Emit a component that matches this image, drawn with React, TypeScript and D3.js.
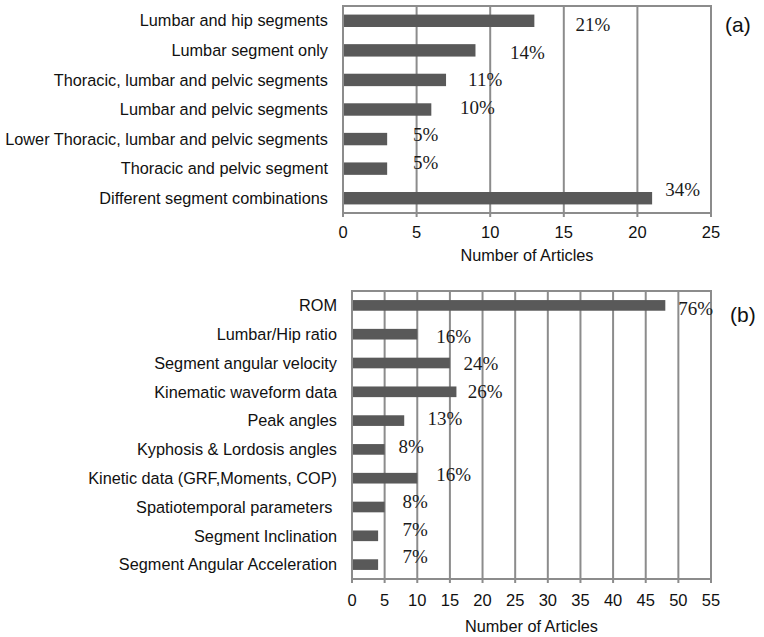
import { useEffect, useRef } from "react";
import * as d3 from "d3";

// panel (a): segment combinations
const segmentCategories = [
  "Lumbar and hip segments",
  "Lumbar segment only",
  "Thoracic, lumbar and pelvic segments",
  "Lumbar and pelvic segments",
  "Lower Thoracic, lumbar and pelvic segments",
  "Thoracic and pelvic segment",
  "Different segment combinations",
];
const segmentCounts = [13, 9, 7, 6, 3, 3, 21];
const segmentShares = ["21%", "14%", "11%", "10%", "5%", "5%", "34%"];
// where each percentage label starts, in article units
const segmentShareAt = [15.8, 11.35, 8.5, 7.95, 4.75, 4.75, 21.9];
const segmentTicks = [0, 5, 10, 15, 20, 25];

// panel (b): measured outcomes
const measureCategories = [
  "ROM",
  "Lumbar/Hip ratio",
  "Segment angular velocity",
  "Kinematic waveform data",
  "Peak angles",
  "Kyphosis & Lordosis angles",
  "Kinetic data (GRF,Moments, COP)",
  "Spatiotemporal parameters ",
  "Segment Inclination",
  "Segment Angular Acceleration",
];
const measureCounts = [48, 10, 15, 16, 8, 5, 10, 5, 4, 4];
const measureShares = ["76%", "16%", "24%", "26%", "13%", "8%", "16%", "8%", "7%", "7%"];
const measureShareAt = [50.0, 12.9, 17.1, 17.75, 11.57, 7.13, 12.9, 7.75, 7.75, 7.75];
const measureTicks = [0, 5, 10, 15, 20, 25, 30, 35, 40, 45, 50, 55];

const W = 764;
const H = 637;
const SANS = "'Liberation Sans', Arial, sans-serif";
const SERIF = "'Liberation Serif', 'Times New Roman', serif";
const BAR = "#595959";
const GRID = "#8c8c8c";

interface Panel {
  categories: string[];
  counts: number[];
  shares: string[];
  shareAt: number[];
  ticks: number[];
  tag: string;
  left: number;
  right: number;
  top: number;
  bottom: number;
  padding: number;
  labelTop: number;
  labelBottom: number;
  tickBaseline: number;
  titleBaseline: number;
  tagX: number;
  tagY: number;
}

function drawPanel(root: d3.Selection<SVGSVGElement, unknown, null, undefined>, p: Panel) {
  const g = root.append("g");
  const x = d3
    .scaleLinear()
    .domain([0, p.ticks[p.ticks.length - 1]])
    .range([p.left, p.right]);
  const y = d3
    .scaleBand<string>()
    .domain(p.categories)
    .range([p.top, p.bottom])
    .paddingInner(p.padding)
    .paddingOuter(p.padding / 2);
  const labelY = d3
    .scalePoint<string>()
    .domain(p.categories)
    .range([p.labelTop, p.labelBottom]);

  // gridlines
  g.selectAll(".grid")
    .data(p.ticks)
    .enter()
    .append("line")
    .attr("x1", (d) => x(d))
    .attr("x2", (d) => x(d))
    .attr("y1", p.top)
    .attr("y2", p.bottom + 4)
    .attr("stroke", GRID)
    .attr("stroke-width", 2);

  // frame top + bottom axis
  g.append("line")
    .attr("x1", p.left - 1)
    .attr("x2", p.right + 1)
    .attr("y1", p.top)
    .attr("y2", p.top)
    .attr("stroke", GRID)
    .attr("stroke-width", 2);
  g.append("line")
    .attr("x1", p.left - 1)
    .attr("x2", p.right + 1)
    .attr("y1", p.bottom)
    .attr("y2", p.bottom)
    .attr("stroke", GRID)
    .attr("stroke-width", 2);

  // bars
  g.selectAll(".bar")
    .data(p.categories)
    .enter()
    .append("rect")
    .attr("x", x(0) + 1)
    .attr("y", (d) => y(d)!)
    .attr("width", (_, i) => x(p.counts[i]) - x(0) - 1)
    .attr("height", y.bandwidth())
    .attr("fill", BAR);

  // category labels
  g.selectAll(".cat")
    .data(p.categories)
    .enter()
    .append("text")
    .attr("x", p.left - 15)
    .attr("y", (d) => y(d)! + y.bandwidth() / 2)
    .attr("dy", "0.35em")
    .attr("text-anchor", "end")
    .style("white-space", "pre")
    .style("font-family", SANS)
    .style("font-size", "16.3px")
    .attr("fill", "#111")
    .text((d) => d);

  // percentage labels
  g.selectAll(".share")
    .data(p.categories)
    .enter()
    .append("text")
    .attr("x", (_, i) => x(p.shareAt[i]))
    .attr("y", (d) => labelY(d)!)
    .attr("dy", "0.33em")
    .style("font-family", SERIF)
    .style("font-size", "19px")
    .attr("fill", "#1a1a1a")
    .text((_, i) => p.shares[i]);

  // tick labels
  g.selectAll(".tick")
    .data(p.ticks)
    .enter()
    .append("text")
    .attr("x", (d) => x(d))
    .attr("y", p.tickBaseline)
    .attr("text-anchor", "middle")
    .style("font-family", SANS)
    .style("font-size", "16.5px")
    .attr("fill", "#111")
    .text((d) => d);

  g.append("text")
    .attr("x", (p.left + p.right) / 2)
    .attr("y", p.titleBaseline)
    .attr("text-anchor", "middle")
    .style("font-family", SANS)
    .style("font-size", "16.3px")
    .attr("fill", "#111")
    .text("Number of Articles");

  g.append("text")
    .attr("x", p.tagX)
    .attr("y", p.tagY)
    .attr("dy", "0.35em")
    .style("font-family", SANS)
    .style("font-size", "21px")
    .attr("fill", "#111")
    .text(p.tag);
}

export default function App() {
  const svgRef = useRef<SVGSVGElement>(null);

  useEffect(() => {
    if (!svgRef.current) return;
    const svg = d3.select(svgRef.current);
    svg.selectAll("*").remove();

    svg.append("rect").attr("width", W).attr("height", H).attr("fill", "#fff");

    drawPanel(svg, {
      categories: segmentCategories,
      counts: segmentCounts,
      shares: segmentShares,
      shareAt: segmentShareAt,
      ticks: segmentTicks,
      tag: "(a)",
      left: 343,
      right: 711,
      top: 6,
      bottom: 213,
      padding: 0.58,
      labelTop: 25,
      labelBottom: 190,
      tickBaseline: 238,
      titleBaseline: 261,
      tagX: 725,
      tagY: 25,
    });

    drawPanel(svg, {
      categories: measureCategories,
      counts: measureCounts,
      shares: measureShares,
      shareAt: measureShareAt,
      ticks: measureTicks,
      tag: "(b)",
      left: 352,
      right: 711,
      top: 291,
      bottom: 579,
      padding: 0.63,
      labelTop: 309,
      labelBottom: 557,
      tickBaseline: 606,
      titleBaseline: 632,
      tagX: 730,
      tagY: 315,
    });
  }, []);

  return (
    <svg
      ref={svgRef}
      width={W}
      height={H}
      viewBox={`0 0 ${W} ${H}`}
      style={{ position: "absolute", left: 0, top: 0, display: "block" }}
    />
  );
}
